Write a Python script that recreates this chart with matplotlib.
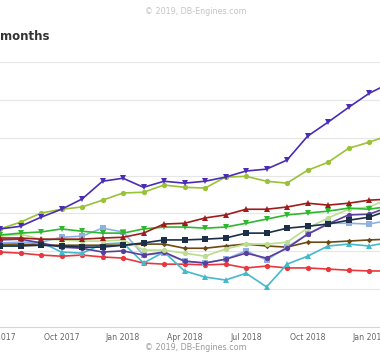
import numpy as np
import matplotlib
matplotlib.use("Agg")
import matplotlib.pyplot as plt

# months from Jul 2017 (index 0) to Feb 2019 (index 19)
months = list(range(20))
tick_pos = [0, 3, 6, 9, 12, 15, 18]
tick_labels = ["Jul 2017", "Oct 2017", "Jan 2018", "Apr 2018", "Jul 2018",
               "Oct 2018", "Jan 2019"]

# scores (in gridline units)
purple = [2.59, 2.66, 2.90, 3.11, 3.38, 3.85, 3.93, 3.69, 3.85, 3.80,
          3.85, 3.96, 4.12, 4.17, 4.41, 5.04, 5.41, 5.80, 6.17, 6.44]
lime = [2.59, 2.77, 3.01, 3.11, 3.17, 3.35, 3.54, 3.56, 3.75, 3.69,
        3.67, 3.96, 3.98, 3.85, 3.80, 4.14, 4.35, 4.72, 4.88, 5.07]
darkred = [2.35, 2.35, 2.32, 2.32, 2.32, 2.35, 2.37, 2.48, 2.72, 2.74,
           2.88, 2.96, 3.11, 3.11, 3.17, 3.27, 3.22, 3.27, 3.35, 3.38]
green = [2.43, 2.48, 2.51, 2.59, 2.53, 2.48, 2.48, 2.59, 2.64, 2.64,
         2.61, 2.64, 2.74, 2.85, 2.96, 3.01, 3.06, 3.14, 3.11, 3.19]
navy = [2.14, 2.14, 2.16, 2.14, 2.11, 2.11, 2.16, 2.22, 2.30, 2.30,
        2.32, 2.35, 2.48, 2.48, 2.61, 2.66, 2.72, 2.82, 2.90, 3.09]
palegreen = [2.40, 2.45, 2.32, 2.30, 2.27, 2.27, 2.30, 2.03, 2.03, 1.95,
             1.87, 2.06, 2.19, 2.19, 2.24, 2.61, 2.88, 3.11, 3.17, 3.40]
brown = [2.19, 2.19, 2.16, 2.16, 2.16, 2.16, 2.16, 2.19, 2.19, 2.08,
         2.08, 2.14, 2.19, 2.14, 2.11, 2.24, 2.24, 2.27, 2.30, 2.32]
lightblue = [2.22, 2.24, 2.24, 2.37, 2.40, 2.61, 2.51, 1.90, 1.95, 1.74,
             1.69, 1.79, 2.01, 1.77, 2.11, 2.45, 2.74, 2.74, 2.72, 2.82]
violet = [2.30, 2.32, 2.22, 2.11, 2.08, 1.98, 2.01, 1.90, 1.98, 1.74,
          1.69, 1.79, 1.95, 1.82, 2.08, 2.45, 2.72, 2.96, 2.98, 3.17]
cyan = [2.14, 2.14, 2.24, 1.98, 1.95, 2.19, 2.22, 1.69, 1.98, 1.48,
        1.32, 1.24, 1.42, 1.06, 1.66, 1.87, 2.14, 2.19, 2.14, 2.24]
red = [1.98, 1.95, 1.90, 1.87, 1.90, 1.85, 1.82, 1.69, 1.66, 1.66,
       1.64, 1.66, 1.56, 1.61, 1.56, 1.56, 1.53, 1.50, 1.48, 1.48]

series = [
    (red, "#e8383d", "o"),
    (cyan, "#45b9cc", "^"),
    (brown, "#6b4a14", "D"),
    (lightblue, "#8db1e3", "s"),
    (violet, "#5b3d9e", "o"),
    (palegreen, "#bcdc8e", "o"),
    (navy, "#1d2e48", "s"),
    (green, "#2fb82f", "v"),
    (darkred, "#9e1c1c", "^"),
    (lime, "#99c238", "o"),
    (purple, "#4a2db4", "v"),
]

fig = plt.figure(figsize=(3.8, 3.6), dpi=100)
ax = fig.add_axes([0, 33 / 360, 1, 265 / 360])
for vals, col, mk in series:
    ms = 2.8 if mk == "D" else 3.8
    ax.plot(months, vals, color=col, marker=mk, markersize=ms, linewidth=1.2,
            markeredgewidth=0)

ax.set_xlim(7 / 20.88, 387 / 20.88)
ax.set_ylim(0, 7)
ax.set_yticks(range(1, 8))
ax.yaxis.grid(True, color="#e6e6e6", linewidth=0.8)
ax.set_axisbelow(True)
ax.tick_params(axis="y", length=0, labelleft=False)
ax.set_xticks(tick_pos)
ax.set_xticklabels(tick_labels, fontsize=5.6, color="#666666",
                   family="DejaVu Sans")
ax.tick_params(axis="x", length=0, pad=4.5)
for s in ["top", "left", "right"]:
    ax.spines[s].set_visible(False)
ax.spines["bottom"].set_color("#ccd6eb")
ax.spines["bottom"].set_linewidth(0.8)
ax.patch.set_alpha(0)

fig.text(0.0, 1 - 36 / 360, "months", fontsize=8.5, fontweight="bold",
         color="#333333", ha="left", va="center")
fig.text(196 / 380, 1 - 348 / 360, "\u00a9 2019, DB-Engines.com",
         fontsize=5.8, color="#999999", ha="center", va="center")
fig.text(196 / 380, 1 - 12 / 360, "\u00a9 2019, DB-Engines.com",
         fontsize=5.8, color="#c4c4c4", ha="center", va="center")

fig.savefig("out.png", dpi=100)
